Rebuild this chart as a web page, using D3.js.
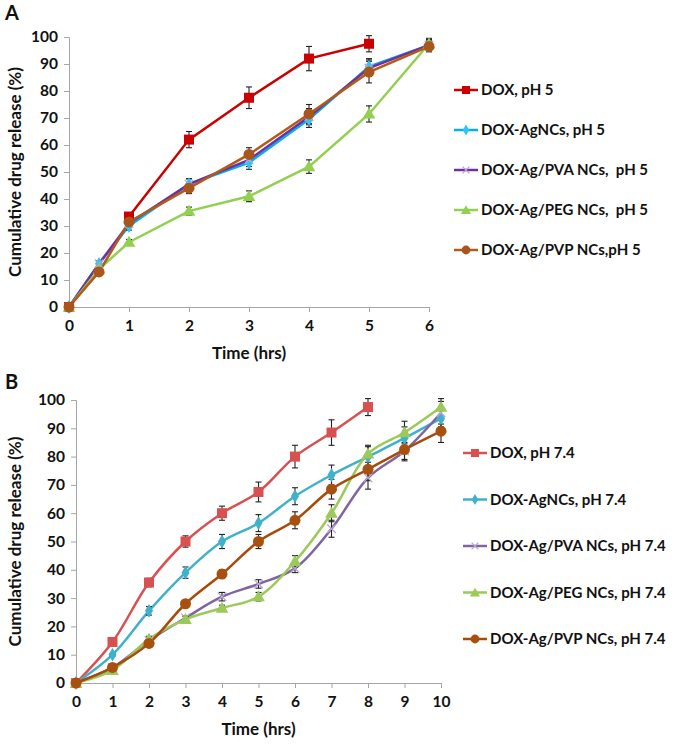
<!DOCTYPE html>
<html><head><meta charset="utf-8">
<script src="https://cdn.jsdelivr.net/npm/d3@7"></script>
<style>
body{margin:0;background:#fff;}
text{font-family:Lato,"Open Sans",sans-serif;font-weight:bold;fill:#111;white-space:pre;}
</style></head>
<body><svg id="c" width="675" height="744"></svg>
<script>
// ---------- Panel A data (pH 5) ----------
const timeA = [0, 0.5, 1, 2, 3, 4, 5, 6];
const ticksA = [0, 1, 2, 3, 4, 5, 6];
const namesA = ["DOX, pH 5", "DOX-AgNCs, pH 5", "DOX-Ag/PVA NCs,  pH 5", "DOX-Ag/PEG NCs,  pH 5", "DOX-Ag/PVP NCs,pH 5"];
const doxA  = [0, null, 33.5, 62, 77.5, 92, 97.5, null];
const agA   = [0, 16, 30, 45.5, 53.5, 69.5, 89, 97];
const pvaA  = [0, 16, 31, 45.5, 54.5, 70.5, 88.5, 97];
const pegA  = [0, 14, 24, 35.5, 41, 52, 71.5, 97.5];
const pvpA  = [0, 13, 31.5, 44, 56.5, 71.5, 87, 96.5];
const doxAErr = [0, null, 1, 3, 4, 4.5, 3, null];
const agAErr  = [0, 1, 1.5, 2, 2.5, 3, 3, 2];
const pvaAErr = [0, 1, 1.5, 2, 2.5, 3, 3, 2];
const pegAErr = [0, 1, 1, 1.5, 2, 2.5, 3, 2];
const pvpAErr = [0, 1, 1.5, 2, 2.5, 3.5, 4, 2];

// ---------- Panel B data (pH 7.4) ----------
const timeB = [0, 1, 2, 3, 4, 5, 6, 7, 8, 9, 10];
const ticksB = [0, 1, 2, 3, 4, 5, 6, 7, 8, 9, 10];
const namesB = ["DOX, pH 7.4", "DOX-AgNCs, pH 7.4", "DOX-Ag/PVA NCs, pH 7.4", "DOX-Ag/PEG NCs, pH 7.4", "DOX-Ag/PVP NCs, pH 7.4"];
const doxB = [0, 14.5, 35.5, 50, 60, 67.5, 80, 88.5, 97.5, null, null];
const agB  = [0, 10, 25.5, 39, 50, 56.5, 66, 73.5, 80, 86.5, 93.5];
const pvaB = [0, 5.5, 15, 23, 30.5, 35, 40.5, 54.5, 72.5, 82, 95.5];
const pegB = [0, 4.5, 15.5, 22.5, 26.5, 30.5, 43, 60, 81, 88.5, 97.5];
const pvpB = [0, 5.5, 14, 28, 38.5, 50, 57.5, 68.5, 75.5, 82.5, 89];
const doxBErr = [0, 1, 1.5, 2, 2.5, 3.5, 4, 4.5, 3, null, null];
const agBErr  = [0, 0.5, 1.5, 2, 2.5, 3, 3, 3.5, 3.5, 4, 3];
const pvaBErr = [0, 0.5, 1, 0.8, 1.5, 1.5, 1.5, 3, 4, 3, 4];
const pegBErr = [0, 0.5, 1, 1, 1, 1.5, 2, 3, 3, 4, 3];
const pvpBErr = [0, 0.5, 1, 1, 1.5, 2.5, 3, 3.5, 4, 4, 4];

const colorsA = ["#CC0000", "#00B0F0", "#7030A0", "#92D050", "#B55A16"];
const markFillA = ["#CC0000", "#33C3F5", "#B9A0D6", "#92D050", "#A8561B"];
const colorsB = ["#D95050", "#3FB1CC", "#8064A2", "#9BC95A", "#A84A0A"];
const markFillB = ["#D95050", "#3FB1CC", "#B8A8D0", "#9BC95A", "#A8500F"];
const markers = ["square", "diamond", "x", "triangle", "circle"];

const svg = d3.select("#c");

function drawPanel(cfg) {
  const g = svg.append("g");
  const x = d3.scaleLinear().domain(cfg.xDomain).range(cfg.xRange);
  const y = d3.scaleLinear().domain([0, 100]).range(cfg.yRange);

  const xa = g.append("g").attr("transform", `translate(0,${cfg.yRange[0]})`)
    .call(d3.axisBottom(x).tickValues(cfg.ticks).tickSize(5).tickPadding(8).tickFormat(d3.format("d")));
  const ya = g.append("g").attr("transform", `translate(${cfg.xRange[0]},0)`)
    .call(d3.axisLeft(y).tickValues(d3.range(0, 101, 10)).tickSize(5).tickPadding(6));
  [xa, ya].forEach(a => {
    a.select(".domain").attr("stroke", "#A6A6A6").attr("stroke-width", 1);
    a.selectAll(".tick line").attr("stroke", "#A6A6A6");
    a.selectAll(".tick text").style("font-size", "15.5px").attr("fill", "#111");
  });

  g.append("text").attr("x", (cfg.xRange[0] + cfg.xRange[1]) / 2).attr("y", cfg.xTitleY)
    .attr("text-anchor", "middle").style("font-size", "17px").text("Time (hrs)");
  g.append("text").attr("transform", `translate(21,${(cfg.yRange[0] + cfg.yRange[1]) / 2}) rotate(-90)`)
    .attr("text-anchor", "middle").style("font-size", "17px").text("Cumulative drug release (%)");
  g.append("text").attr("x", 5).attr("y", cfg.letterY).style("font-size", "20px").text(cfg.letter);

  const line = d3.line().defined(d => d.v != null).x(d => x(d.t)).y(d => y(d.v)).curve(cfg.curve);

  cfg.series.forEach((s, i) => {
    const pts = cfg.time.map((t, k) => ({ t, v: s.vals[k] }));
    g.append("path").datum(pts).attr("d", line).attr("fill", "none")
      .attr("stroke", cfg.colors[i]).attr("stroke-width", 2.5);
  });
  cfg.series.forEach((s, i) => {
    const pts = cfg.time.map((t, k) => ({ t, v: s.vals[k], e: s.err[k] })).filter(d => d.v != null && d.e);
    const eg = g.append("g").attr("stroke", "#222").attr("stroke-width", 1.1);
    pts.forEach(d => {
      const cx = x(d.t);
      eg.append("line").attr("x1", cx).attr("x2", cx).attr("y1", y(d.v - d.e)).attr("y2", y(d.v + d.e));
      eg.append("line").attr("x1", cx - 3).attr("x2", cx + 3).attr("y1", y(d.v - d.e)).attr("y2", y(d.v - d.e));
      eg.append("line").attr("x1", cx - 3).attr("x2", cx + 3).attr("y1", y(d.v + d.e)).attr("y2", y(d.v + d.e));
    });
  });
  cfg.series.forEach((s, i) => {
    const pts = cfg.time.map((t, k) => ({ t, v: s.vals[k] })).filter(d => d.v != null);
    pts.forEach(d => drawMarker(g, markers[i], x(d.t), y(d.v), cfg.fills[i], 1));
  });

  cfg.names.forEach((n, i) => {
    const ly = cfg.legY + i * cfg.legStep;
    g.append("line").attr("x1", cfg.legX).attr("x2", cfg.legX + 24).attr("y1", ly).attr("y2", ly)
      .attr("stroke", cfg.colors[i]).attr("stroke-width", 2.5);
    drawMarker(g, markers[i], cfg.legX + 12, ly, cfg.fills[i], 0.8);
    g.append("text").attr("x", cfg.legX + 27).attr("y", ly).attr("dy", "0.35em")
      .style("font-size", "15px").text(n);
  });
}

function drawMarker(g, type, cx, cy, fill, sc) {
  if (type === "square") {
    const s = 10 * sc;
    g.append("rect").attr("x", cx - s / 2).attr("y", cy - s / 2).attr("width", s).attr("height", s).attr("fill", fill);
  } else if (type === "diamond") {
    g.append("path").attr("d", d3.symbol(d3.symbolDiamond, 55 * sc * sc)()).attr("transform", `translate(${cx},${cy})`).attr("fill", fill);
  } else if (type === "x") {
    g.append("path").attr("d", d3.symbol(d3.symbolTimes, 50 * sc * sc)()).attr("transform", `translate(${cx},${cy})`)
      .attr("fill", "none").attr("stroke", fill).attr("stroke-width", 1.3);
  } else if (type === "triangle") {
    g.append("path").attr("d", d3.symbol(d3.symbolTriangle, 70 * sc * sc)()).attr("transform", `translate(${cx},${cy + 1})`).attr("fill", fill);
  } else {
    g.append("circle").attr("cx", cx).attr("cy", cy).attr("r", 5.5 * sc).attr("fill", fill);
  }
}

drawPanel({
  letter: "A", letterY: 20,
  time: timeA, ticks: ticksA, xDomain: [0, 6], xRange: [69, 429], yRange: [307, 37], xTitleY: 359,
  curve: d3.curveLinear,
  series: [
    { vals: doxA, err: doxAErr }, { vals: agA, err: agAErr }, { vals: pvaA, err: pvaAErr },
    { vals: pegA, err: pegAErr }, { vals: pvpA, err: pvpAErr }],
  names: namesA, colors: colorsA, fills: markFillA,
  legX: 454, legY: 90, legStep: 40
});
drawPanel({
  letter: "B", letterY: 389,
  time: timeB, ticks: ticksB, xDomain: [0, 10], xRange: [76, 441], yRange: [683, 400], xTitleY: 735,
  curve: d3.curveCatmullRom.alpha(0.5),
  series: [
    { vals: doxB, err: doxBErr }, { vals: agB, err: agBErr }, { vals: pvaB, err: pvaBErr },
    { vals: pegB, err: pegBErr }, { vals: pvpB, err: pvpBErr }],
  names: namesB, colors: colorsB, fills: markFillB,
  legX: 463, legY: 453, legStep: 46.5
});
</script></body></html>
